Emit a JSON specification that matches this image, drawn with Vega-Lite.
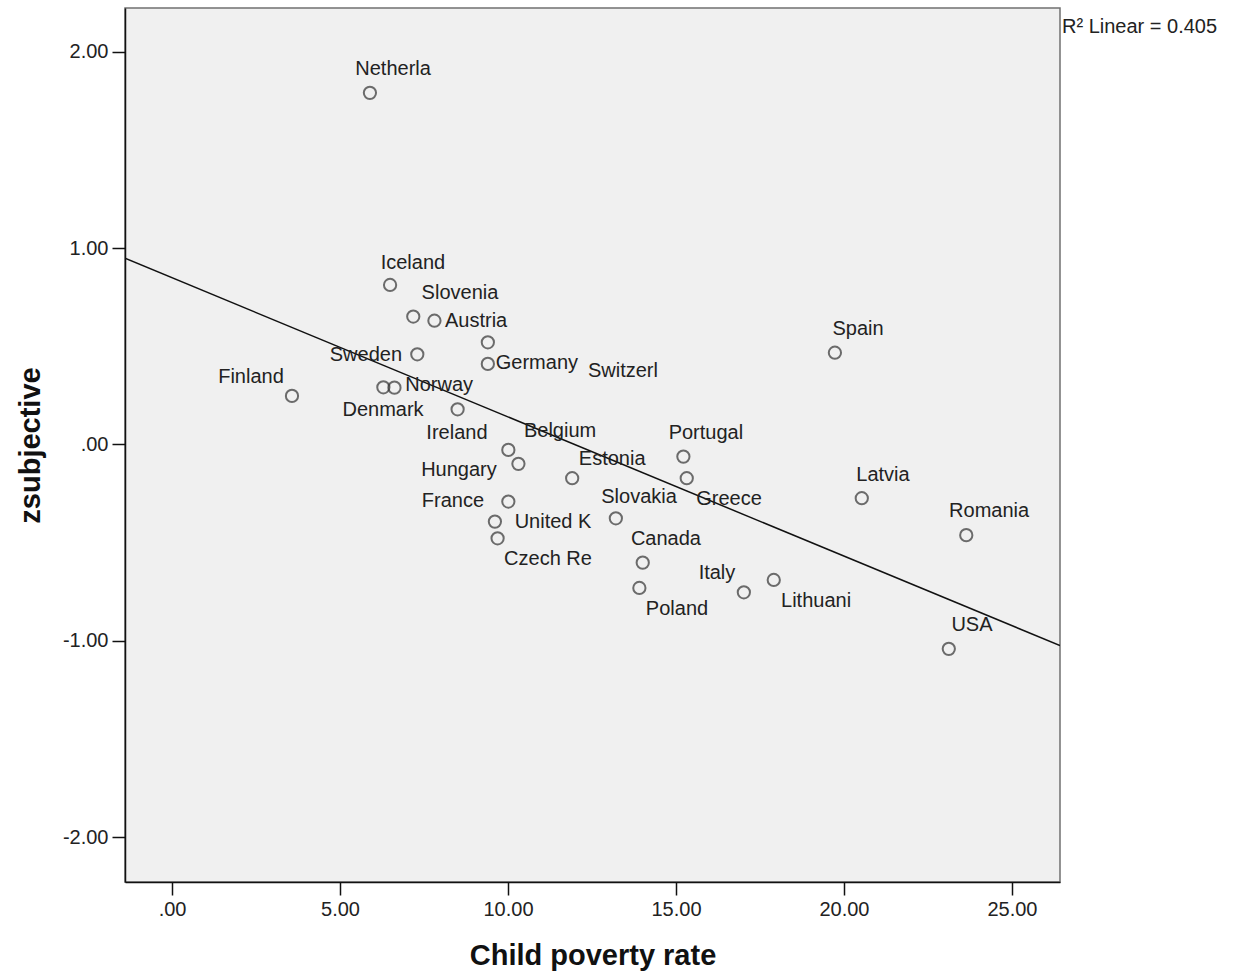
{
  "$schema": "https://vega.github.io/schema/vega-lite/v6.json",
  "width": 935,
  "height": 874,
  "autosize": {"type": "none"},
  "padding": {"left": 125, "top": 8, "right": 173, "bottom": 91},
  "background": "white",
  "config": {
    "view": {"fill": "#F0F0F0", "stroke": "#707070", "strokeWidth": 1.5},
    "font": "Liberation Sans",
    "axis": {
      "grid": false,
      "domainColor": "#111111",
      "domainWidth": 1.5,
      "tickColor": "#111111",
      "tickWidth": 1.5,
      "tickSize": 13,
      "labelFont": "Liberation Sans",
      "labelFontSize": 20,
      "labelColor": "#222222",
      "labelPadding": 4,
      "titleFont": "Liberation Sans",
      "titleFontSize": 29,
      "titleFontWeight": "bold",
      "titleColor": "#111111"
    }
  },
  "datasets": {
    "pts": [
      {"country": "Netherla", "poverty": 5.89, "zsubjective": 1.790, "label_x": 6.58, "label_y": 1.912},
      {"country": "Iceland", "poverty": 6.49, "zsubjective": 0.812, "label_x": 7.17, "label_y": 0.924},
      {"country": "Slovenia", "poverty": 7.18, "zsubjective": 0.651, "label_x": 8.57, "label_y": 0.771},
      {"country": "Austria", "poverty": 7.81, "zsubjective": 0.630, "label_x": 9.05, "label_y": 0.629},
      {"country": "Sweden", "poverty": 7.30, "zsubjective": 0.459, "label_x": 5.77, "label_y": 0.456},
      {"country": "Switzerl", "poverty": 9.40, "zsubjective": 0.520, "label_x": 13.42, "label_y": 0.374},
      {"country": "Germany", "poverty": 9.40, "zsubjective": 0.410, "label_x": 10.86, "label_y": 0.415},
      {"country": "Denmark", "poverty": 6.29, "zsubjective": 0.291, "label_x": 6.28, "label_y": 0.176},
      {"country": "Norway", "poverty": 6.62, "zsubjective": 0.289, "label_x": 7.95, "label_y": 0.303},
      {"country": "Finland", "poverty": 3.57, "zsubjective": 0.247, "label_x": 2.35, "label_y": 0.344},
      {"country": "Ireland", "poverty": 8.50, "zsubjective": 0.179, "label_x": 8.48, "label_y": 0.059},
      {"country": "Belgium", "poverty": 10.01, "zsubjective": -0.028, "label_x": 11.55, "label_y": 0.069},
      {"country": "Hungary", "poverty": 10.31, "zsubjective": -0.099, "label_x": 8.54, "label_y": -0.130},
      {"country": "Estonia", "poverty": 11.91, "zsubjective": -0.172, "label_x": 13.10, "label_y": -0.074},
      {"country": "Portugal", "poverty": 15.22, "zsubjective": -0.062, "label_x": 15.89, "label_y": 0.059},
      {"country": "Greece", "poverty": 15.32, "zsubjective": -0.172, "label_x": 16.58, "label_y": -0.277},
      {"country": "France", "poverty": 10.01, "zsubjective": -0.291, "label_x": 8.36, "label_y": -0.288},
      {"country": "United K", "poverty": 9.61, "zsubjective": -0.393, "label_x": 11.34, "label_y": -0.395},
      {"country": "Czech Re", "poverty": 9.69, "zsubjective": -0.478, "label_x": 11.19, "label_y": -0.583},
      {"country": "Slovakia", "poverty": 13.21, "zsubjective": -0.376, "label_x": 13.90, "label_y": -0.267},
      {"country": "Canada", "poverty": 14.01, "zsubjective": -0.602, "label_x": 14.70, "label_y": -0.481},
      {"country": "Poland", "poverty": 13.91, "zsubjective": -0.731, "label_x": 15.03, "label_y": -0.838},
      {"country": "Italy", "poverty": 17.02, "zsubjective": -0.753, "label_x": 16.22, "label_y": -0.654},
      {"country": "Lithuani", "poverty": 17.91, "zsubjective": -0.690, "label_x": 19.17, "label_y": -0.797},
      {"country": "Spain", "poverty": 19.73, "zsubjective": 0.467, "label_x": 20.42, "label_y": 0.588},
      {"country": "Latvia", "poverty": 20.53, "zsubjective": -0.274, "label_x": 21.16, "label_y": -0.155},
      {"country": "Romania", "poverty": 23.64, "zsubjective": -0.462, "label_x": 24.32, "label_y": -0.339},
      {"country": "USA", "poverty": 23.12, "zsubjective": -1.041, "label_x": 23.81, "label_y": -0.919}
    ]
  },
  "layer": [
    {
      "data": {"name": "pts"},
      "transform": [{"regression": "zsubjective", "on": "poverty", "extent": [-1.40, 26.43]}],
      "mark": {"type": "line", "color": "#111111", "strokeWidth": 1.5, "clip": true},
      "encoding": {
        "x": {"field": "poverty", "type": "quantitative", "title": "Child poverty rate",
              "scale": {"domain": [-1.40, 26.43], "nice": false, "zero": false},
              "axis": {"values": [0, 5, 10, 15, 20, 25], "labelExpr": "datum.value == 0 ? '.00' : replace(format(datum.value, '.2f'), '\u2212', '-')", "titlePadding": 22}},
        "y": {"field": "zsubjective", "type": "quantitative", "title": "zsubjective",
              "scale": {"domain": [-2.228, 2.222], "nice": false, "zero": false},
              "axis": {"values": [-2, -1, 0, 1, 2], "labelExpr": "datum.value == 0 ? '.00' : replace(format(datum.value, '.2f'), '\u2212', '-')", "titlePadding": 17}}
      }
    },
    {
      "data": {"name": "pts"},
      "mark": {"type": "point", "shape": "circle", "filled": false, "color": "#333333", "size": 150, "strokeWidth": 2},
      "encoding": {
        "x": {"field": "poverty", "type": "quantitative", "title": "Child poverty rate", "scale": {"domain": [-1.40, 26.43], "nice": false, "zero": false}},
        "y": {"field": "zsubjective", "type": "quantitative", "title": "zsubjective", "scale": {"domain": [-2.228, 2.222], "nice": false, "zero": false}}
      }
    },
    {
      "data": {"name": "pts"},
      "mark": {"type": "text", "fontSize": 20, "color": "#222222", "align": "center", "baseline": "middle", "font": "Liberation Sans"},
      "encoding": {
        "x": {"field": "label_x", "type": "quantitative", "title": "Child poverty rate", "scale": {"domain": [-1.40, 26.43], "nice": false, "zero": false}},
        "y": {"field": "label_y", "type": "quantitative", "title": "zsubjective", "scale": {"domain": [-2.228, 2.222], "nice": false, "zero": false}},
        "text": {"field": "country"}
      }
    },
    {
      "data": {"values": [{"t": "R² Linear = 0.405"}]},
      "mark": {"type": "text", "fontSize": 20, "color": "#222222", "align": "left", "baseline": "middle", "clip": false, "font": "Liberation Sans"},
      "encoding": {
        "x": {"datum": 26.49, "type": "quantitative"},
        "y": {"datum": 2.126, "type": "quantitative"},
        "text": {"field": "t"}
      }
    }
  ]
}
